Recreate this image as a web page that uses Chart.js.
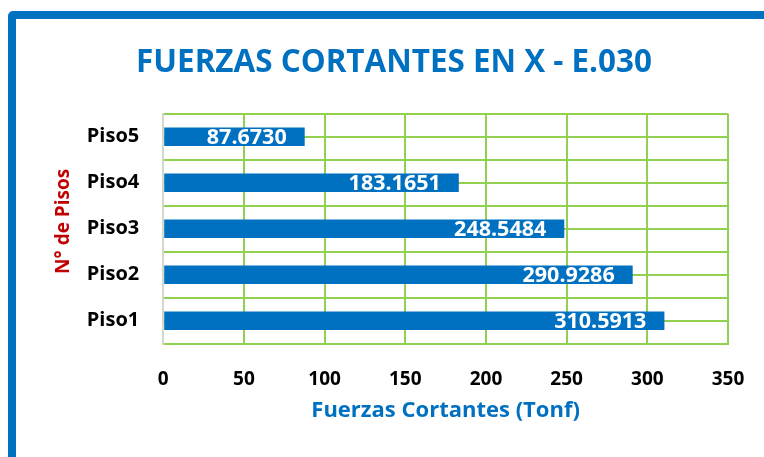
<!DOCTYPE html>
<html>
<head>
<meta charset="utf-8">
<script src="https://cdn.jsdelivr.net/npm/chart.js@4.4.1/dist/chart.umd.min.js"></script>
<style>
  html, body { margin:0; padding:0; width:764px; height:457px; overflow:hidden; background:#fff; }
  .frame { position:absolute; left:8px; top:11px; width:1000px; height:700px;
           border:8px solid #0070C0; border-radius:5px; box-sizing:border-box; }
  .wrap { position:absolute; left:0; top:0; width:797px; height:457px; }
</style>
</head>
<body>
<div class="frame"></div>
<div class="wrap"><canvas id="chart"></canvas></div>
<script>
// Fuerzas cortantes por piso (Tonf)
var pisos   = ['Piso1','Piso2','Piso3','Piso4','Piso5'];
var cortantes = [310.5913, 290.9286, 248.5484, 183.1651, 87.6730];
var xTicks  = [0, 50, 100, 150, 200, 250, 300, 350];

var BLUE  = '#0070C0';
var GREEN = '#92D050';
var FONT  = "'Open Sans', 'Noto Sans', sans-serif";

// value labels inside the end of each bar
var valueLabels = {
  id: 'valueLabels',
  afterDatasetsDraw: function(chart){
    var ctx = chart.ctx;
    var meta = chart.getDatasetMeta(0);
    ctx.save();
    ctx.fillStyle = '#fff';
    ctx.font = 'bold 21.5px ' + FONT;
    ctx.textAlign = 'right';
    ctx.textBaseline = 'middle';
    meta.data.forEach(function(bar, i){
      ctx.fillText(cortantes[i].toFixed(4), bar.x - 18, bar.y + 1);
    });
    ctx.restore();
  }
};

new Chart(document.getElementById('chart'), {
  type: 'bar',
  data: {
    labels: pisos,
    datasets: [{
      data: cortantes,
      backgroundColor: BLUE,
      borderWidth: 0,
      barPercentage: 0.4,
      categoryPercentage: 1
    }]
  },
  options: {
    indexAxis: 'y',
    responsive: true,
    maintainAspectRatio: false,
    animation: false,
    layout: { padding: { left: 60, right: 69, top: 0, bottom: 33 } },
    plugins: {
      legend: { display: false },
      tooltip: { enabled: false },
      title: {
        display: true,
        text: 'FUERZAS CORTANTES EN X - E.030',
        color: BLUE,
        font: { family: FONT, size: 31.4, weight: 'bold' },
        padding: { top: 44, bottom: 32 }
      }
    },
    scales: {
      x: {
        type: 'linear',
        min: 0, max: 350,
        afterBuildTicks: function(axis){ axis.ticks = xTicks.map(function(v){ return { value: v }; }); },
        grid: {
          color: function(c){ return c.tick && c.tick.value === 0 ? '#D4D8CC' : GREEN; },
          lineWidth: 2,
          drawTicks: false
        },
        border: { color: GREEN, width: 2 },
        ticks: { color: '#000', padding: 24, font: { family: FONT, size: 19, weight: 'bold' } },
        title: {
          display: true,
          text: 'Fuerzas Cortantes (Tonf)',
          color: BLUE,
          font: { family: FONT, size: 22, weight: 'bold' },
          padding: { top: -17, bottom: 0 }
        }
      },
      y: {
        type: 'category',
        reverse: true,
        grid: { color: GREEN, lineWidth: 2, drawTicks: false, offset: true },
        border: { color: '#D4D8CC', width: 2 },
        ticks: { color: '#000', padding: 24, font: { family: FONT, size: 20, weight: 'bold' } },
        title: {
          display: true,
          text: '   N° de Pisos',
          color: '#C00000',
          font: { family: FONT, size: 19, weight: 'bold' },
          padding: { top: -8, bottom: -12 }
        }
      },
      // extra grid lines through the middle of each floor
      yMid: {
        type: 'category',
        axis: 'y',
        position: 'right',
        reverse: true,
        offset: true,
        labels: pisos,
        grid: { color: GREEN, lineWidth: 2, drawTicks: false, offset: false },
        border: { display: false },
        ticks: { display: false }
      }
    }
  },
  plugins: [valueLabels]
});
</script>
</body>
</html>
